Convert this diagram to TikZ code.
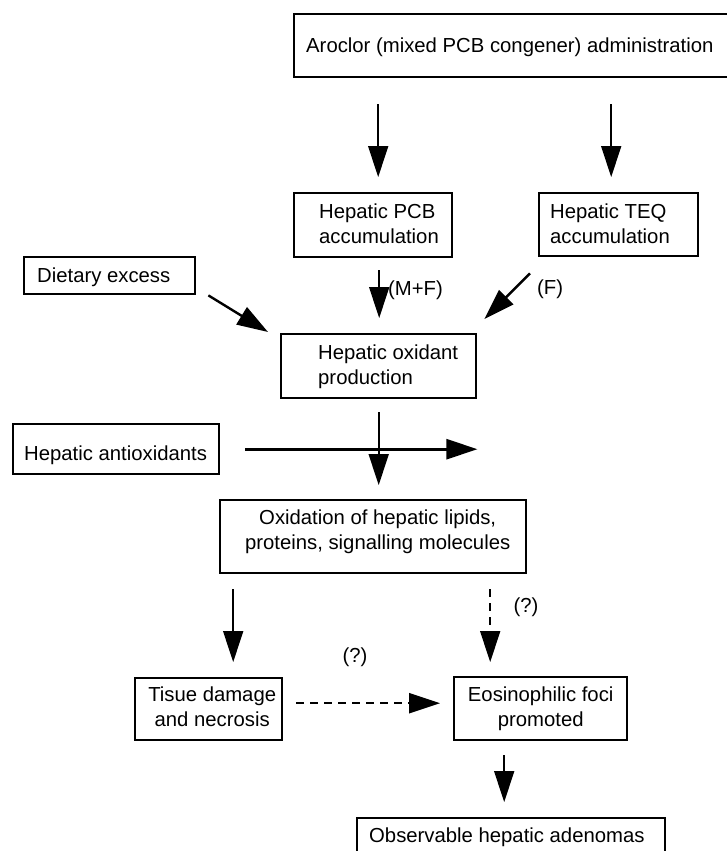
\documentclass[tikz,border=0pt]{standalone}
\usepackage{fontspec}
\setmainfont{Liberation Sans}
\usetikzlibrary{arrows.meta}
\newcommand{\bxl}[5]{\makebox[#1pt][l]{\hspace*{#2pt}\raisebox{0pt}[#3pt][#4pt]{\begin{tabular}[t]{@{}l@{}}#5\end{tabular}}}}
\newcommand{\bxc}[5]{\makebox[#1pt][c]{\hspace*{#2pt}\raisebox{0pt}[#3pt][#4pt]{\begin{tabular}[t]{@{}c@{}}#5\end{tabular}}}}
\tikzset{
  every node/.style={font=\fontsize{20.3}{25}\selectfont},
  box/.style={draw, line width=2.4pt, inner sep=0pt, anchor=north west},
  lbl/.style={inner sep=0pt},
  arr/.style={-{Triangle[length=31pt,width=20pt]}, line width=2pt},
  dsh/.style={dash pattern=on 8pt off 6pt}
}
\begin{document}
\begin{tikzpicture}[x=1pt,y=-1pt]
\useasboundingbox (0,0) rectangle (727,851);
\fill[white] (0,0) rectangle (727,851);

\node[box] (aroclor) at (292.5,12.7) {\bxl{455}{12.5}{38.3}{25}{Aroclor (mixed PCB congener) administration}};
\node[box] (pcb) at (293,192) {\bxl{158}{25}{25.5}{38.5}{Hepatic PCB\\accumulation}};
\node[box] (teq) at (538,192) {\bxl{159}{11}{25.5}{37.5}{Hepatic TEQ\\accumulation}};
\node[box] (diet) at (23,256) {\bxl{171}{13}{25}{12}{Dietary excess}};
\node[box] (oxid) at (280,333) {\bxl{195}{37}{25.5}{38.5}{Hepatic oxidant\\production}};
\node[box] (antiox) at (12,423) {\bxl{206}{11}{36}{14}{Hepatic antioxidants}};
\node[box] (oxidation) at (219,499) {\bxc{306}{9}{24.5}{48.5}{Oxidation of hepatic lipids,\\proteins, signalling molecules}};
\node[box] (tissue) at (134,677) {\bxc{147}{7}{23.5}{38.5}{Tisue damage\\and necrosis}};
\node[box] (eos) at (453,676) {\bxc{173}{0}{24.5}{38.5}{Eosinophilic foci\\promoted}};
\node[box] (obs) at (356,817) {\bxl{308}{12}{24.5}{40}{Observable hepatic adenomas}};

\draw[arr, shorten <=26pt, shorten >=15pt] ([xshift=5pt]pcb.north |- aroclor.south) -- ([xshift=5pt]pcb.north);
\draw[arr, shorten <=26pt, shorten >=15pt] ([xshift=-7.5pt]teq.north |- aroclor.south) -- ([xshift=-7.5pt]teq.north);
\draw[arr, shorten <=12pt, shorten >=15pt] ([xshift=6pt]pcb.south) -- ([xshift=6pt]pcb.south |- oxid.north);
\node[lbl, anchor=west] (mf) at (388,290) {(M+F)};
\draw[arr, line width=2.4pt] ([shift={(-8,16)}]teq.south west) -- ([shift={(7,-14)}]oxid.north east);
\node[lbl, anchor=west] (f) at (537,289) {(F)};
\draw[arr, line width=2.4pt] ([xshift=12pt]diet.south east) -- ([shift={(-12,-1)}]oxid.north west);
\draw[arr, line width=2.6pt, shorten <=25pt] (antiox.east) -- (antiox.east -| oxid.east);
\draw[arr, shorten <=13pt, shorten >=14pt] (oxid.south) -- (oxid.south |- oxidation.north);
\draw[arr, shorten <=15pt, shorten >=15pt] ([xshift=24.5pt]tissue.north |- oxidation.south) -- ([xshift=24.5pt]tissue.north);
\draw[arr, dsh, shorten <=15pt, shorten >=14pt] ([xshift=-50.5pt]eos.north |- oxidation.south) -- ([xshift=-50.5pt]eos.north);
\node[lbl] (q1) at (526,607) {(?)};
\draw[arr, dsh, line width=2.2pt, shorten <=13pt, shorten >=13pt] ([yshift=6pt]tissue.east) -- ([yshift=6pt]tissue.east -| eos.west);
\node[lbl] (q2) at (355,657) {(?)};
\draw[arr, shorten <=14pt, shorten >=15pt] ([xshift=-36.5pt]eos.south) -- ([xshift=-36.5pt]eos.south |- obs.north);
\end{tikzpicture}
\end{document}
